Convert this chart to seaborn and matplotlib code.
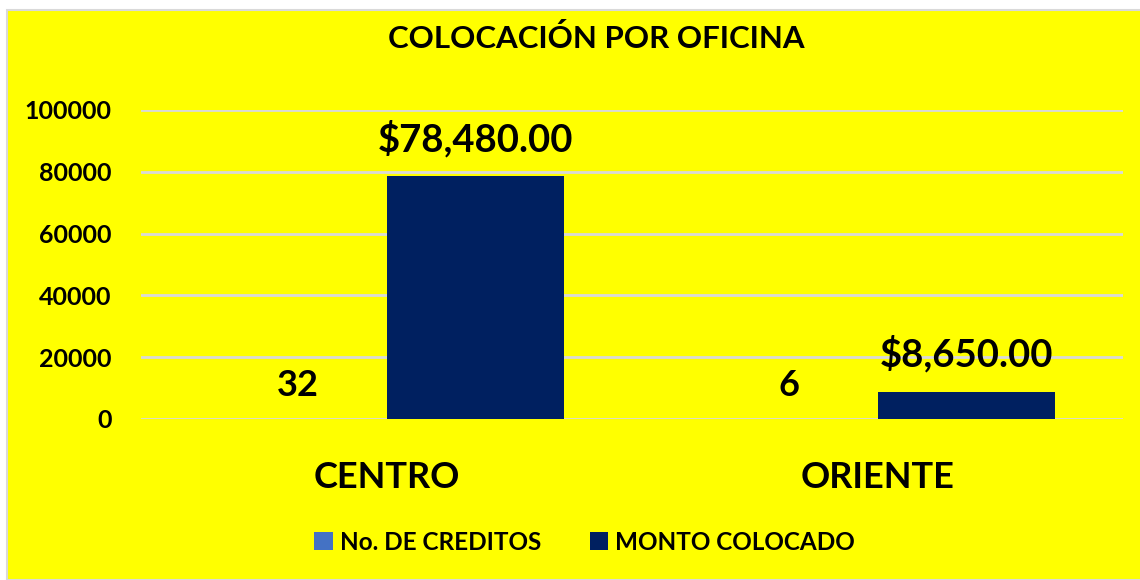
import pandas as pd
import seaborn as sns
from matplotlib import pyplot as plt
from matplotlib.patches import Rectangle

oficinas = ["CENTRO", "ORIENTE"]
series = ["No. DE CREDITOS", "MONTO COLOCADO"]
creditos = [32, 6]
monto = [78480.00, 8650.00]
yticks = [0, 20000, 40000, 60000, 80000, 100000]

colors = ["#4472C4", "#002060"]
yellow = "#FFFF00"

df = pd.DataFrame(
    {
        "oficina": oficinas * 2,
        "serie": [series[0]] * 2 + [series[1]] * 2,
        "valor": creditos + monto,
    }
)

sns.set_style("white")
plt.rcParams["font.family"] = ["Lato", "DejaVu Sans"]
plt.rcParams["font.weight"] = "bold"
plt.rcParams["text.color"] = "black"
plt.rcParams["xtick.color"] = "black"
plt.rcParams["ytick.color"] = "black"

fig = plt.figure(figsize=(11.4, 5.8), dpi=100, facecolor="white")
# yellow chart area (white strip on the left/top as in the reference)
bg = Rectangle((7 / 1140, 0), 1, 1 - 10 / 580, transform=fig.transFigure,
               facecolor=yellow, edgecolor="#D9D9D9", linewidth=1.5, zorder=-5)
fig.patches.append(bg)

ax = fig.add_axes([141 / 1140, 1 - 419 / 580, 982 / 1140, 309 / 580])
ax.set_facecolor(yellow)

sns.barplot(
    data=df, x="oficina", y="valor", hue="serie", order=oficinas,
    hue_order=series, palette=colors, saturation=1, width=0.725, ax=ax,
    zorder=3, linewidth=0, legend=True,
)

ax.set_ylim(0, 100000)
ax.set_yticks(yticks)
ax.set_yticklabels([str(t) for t in yticks], fontsize=18, fontweight="bold")
ax.yaxis.grid(True, color="#D9D9D9", linewidth=2, zorder=0)
ax.set_axisbelow(True)
ax.tick_params(axis="y", length=0, pad=21)
ax.tick_params(axis="x", length=0, pad=30)
ax.set_xticks(range(len(oficinas)))
ax.set_xticklabels(oficinas, fontsize=26, fontweight="bold")
ax.set_xlabel("")
ax.set_ylabel("")
for s in ax.spines.values():
    s.set_visible(False)

ax.bar_label(ax.containers[0], labels=[str(v) for v in creditos],
             padding=12, fontsize=26, fontweight="bold")
ax.bar_label(ax.containers[1], labels=[f"${v:,.2f}" for v in monto],
             padding=14, fontsize=27.5, fontweight="bold")

fig.text(0.523, 1 - 38 / 580, "COLOCACIÓN POR OFICINA", ha="center",
         va="center", fontsize=22.5, fontweight="bold")

ax.legend(
    loc="center", bbox_to_anchor=(0.513, 1 - 542 / 580), bbox_transform=fig.transFigure,
    ncol=2, frameon=False, prop={"size": 17.5, "weight": "bold"},
    handlelength=0.75, handleheight=0.75, handletextpad=0.3, columnspacing=2.0,
)

fig.savefig("out.png", dpi=100, facecolor="white")
